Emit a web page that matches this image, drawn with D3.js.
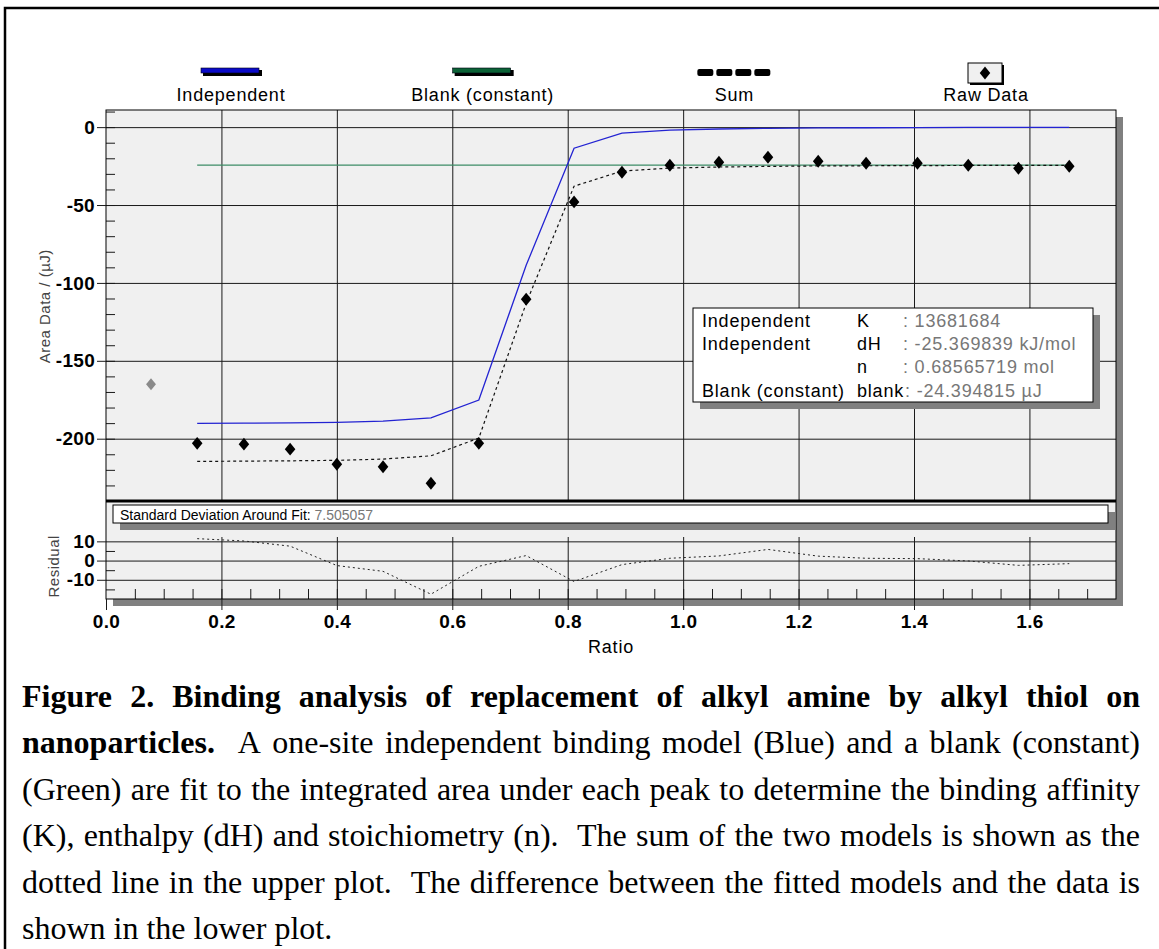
<!DOCTYPE html>
<html>
<head>
<meta charset="utf-8">
<script src="https://cdn.jsdelivr.net/npm/d3@7"></script>
<style>
  body { margin: 0; background: #fff; }
  svg { display: block; }
</style>
</head>
<body>
<div id="chart"></div>
<script>
// data
var ratio = [0.158, 0.239, 0.319, 0.400, 0.480, 0.563, 0.646, 0.728, 0.811, 0.894,
             0.977, 1.062, 1.147, 1.234, 1.317, 1.406, 1.494, 1.581, 1.669];
var rawData = [-203, -203.5, -206.7, -216.4, -218, -228.6, -203, -110.5, -48, -29,
               -24.5, -22.5, -19.3, -21.9, -23.2, -23.2, -24.5, -26.4, -25.1];
var independentFit = [-190.2, -190.0, -189.8, -189.5, -188.7, -186.6, -175.2, -88.7, -13.5, -3.8,
                      -1.9, -1.2, -0.8, -0.5, -0.4, -0.3, -0.2, -0.2, -0.1];
var sumFit = [-214.6, -214.4, -214.2, -213.9, -213.1, -211.0, -199.6, -113.1, -37.9, -28.2,
              -26.3, -25.6, -25.2, -24.9, -24.8, -24.7, -24.6, -24.6, -24.5];
var residual = [11.4, 10.2, 7.5, -2.6, -5.6, -17.5, -3.0, 2.6, -10.9, -2.1,
                1.2, 2.4, 5.8, 2.3, 1.2, 1.0, -0.2, -2.5, -1.6];
var blankRatio = [0.158, 1.669];
var blankFit = [-24.394815, -24.394815];
var excludedRatio = [0.078];
var excludedData = [-165];

var legendNames = ["Independent", "Blank (constant)", "Sum", "Raw Data"];
var yTicks = [0, -50, -100, -150, -200];
var yMinorTicks = d3.range(10, -235, -10);
var resTicks = [10, 0, -10];
var resMinorTicks = [5, -5, -15];
var xTicks = [0, 0.2, 0.4, 0.6, 0.8, 1.0, 1.2, 1.4, 1.6];
var xMinorTicks = d3.range(1, 35).map(function(i) { return i * 0.05 });

var statsLabels = ["Independent", "Independent", "", "Blank (constant)"];
var statsParams = ["K", "dH", "n", "blank"];
var statsValues = [": 13681684", ": -25.369839 kJ/mol", ": 0.68565719 mol", ": -24.394815 \u00b5J"];
var sdLabel = "Standard Deviation Around Fit: ";
var sdValue = "7.505057";

var captionLines = [
  [["Figure 2. Binding analysis of replacement of alkyl amine by alkyl thiol on", true]],
  [["nanoparticles.", true], ["  A one-site independent binding model (Blue) and a blank (constant)", false]],
  [["(Green) are fit to the integrated area under each peak to determine the binding affinity", false]],
  [["(K), enthalpy (dH) and stoichiometry (n).  The sum of the two models is shown as the", false]],
  [["dotted line in the upper plot.  The difference between the fitted models and the data is", false]],
  [["shown in the lower plot.", false]]
];

var width = 1159, height = 949;
var sans = "'Liberation Sans', Arial, sans-serif";
var serif = "'Liberation Serif', 'Times New Roman', serif";

var left = 106, right = 1116, upTop = 110, upBottom = 501, lowBottom = 599;

var svg = d3.select("#chart").append("svg")
  .attr("width", width)
  .attr("height", height);

var x = d3.scaleLinear().domain([0, 1.75]).range([left, right]);
var y = d3.scaleLinear().domain([-240, 11]).range([upBottom, upTop]);
var yRes = d3.scaleLinear().domain([-20, 31]).range([lowBottom, upBottom]);

// page frame
svg.append("path")
  .attr("d", "M5," + height + "V8H" + width)
  .attr("fill", "none")
  .attr("stroke", "#000")
  .attr("stroke-width", 2.5);

// shadow + panels
svg.append("rect")
  .attr("x", left + 7).attr("y", upTop + 7)
  .attr("width", right - left).attr("height", lowBottom - upTop)
  .attr("fill", "#808080");
svg.append("rect")
  .attr("x", left).attr("y", upTop)
  .attr("width", right - left).attr("height", upBottom - upTop)
  .attr("fill", "#f0f0f0");
svg.append("rect")
  .attr("x", left).attr("y", upBottom)
  .attr("width", right - left).attr("height", lowBottom - upBottom)
  .attr("fill", "#f0f0f0");

function clean(g) {
  g.select(".domain").remove();
  g.selectAll("line").attr("stroke", "#1a1a1a");
}

// grid upper
svg.append("g")
  .attr("transform", "translate(" + left + ",0)")
  .call(d3.axisLeft(y).tickValues(yTicks).tickSize(-(right - left)).tickFormat(""))
  .call(clean);
svg.append("g")
  .attr("transform", "translate(0," + upBottom + ")")
  .call(d3.axisBottom(x).tickValues(xTicks.slice(1)).tickSize(-(upBottom - upTop)).tickFormat(""))
  .call(clean);

// grid lower
svg.append("g")
  .attr("transform", "translate(" + left + ",0)")
  .call(d3.axisLeft(yRes).tickValues(resTicks).tickSize(-(right - left)).tickFormat(""))
  .call(clean);
svg.append("g")
  .attr("transform", "translate(0," + lowBottom + ")")
  .call(d3.axisBottom(x).tickValues(xTicks.slice(1)).tickSize(-62).tickFormat(""))
  .call(clean);

// minor ticks
svg.append("g")
  .attr("transform", "translate(" + left + ",0)")
  .call(d3.axisRight(y).tickValues(yMinorTicks).tickSize(9).tickFormat(""))
  .call(clean);
svg.append("g")
  .attr("transform", "translate(" + left + ",0)")
  .call(d3.axisRight(yRes).tickValues(resMinorTicks).tickSize(9).tickFormat(""))
  .call(clean);
svg.append("g")
  .attr("transform", "translate(0," + lowBottom + ")")
  .call(d3.axisTop(x).tickValues(xMinorTicks).tickSize(10).tickFormat(""))
  .call(clean);

// panel borders
svg.append("rect")
  .attr("x", left).attr("y", upTop)
  .attr("width", right - left).attr("height", lowBottom - upTop)
  .attr("fill", "none").attr("stroke", "#000");
svg.append("line")
  .attr("x1", left).attr("x2", right)
  .attr("y1", upBottom).attr("y2", upBottom)
  .attr("stroke", "#000").attr("stroke-width", 3);

// axes with labels
function styleLabels(g) {
  g.selectAll("text")
    .attr("font-family", sans)
    .attr("font-size", 19)
    .attr("font-weight", "bold")
    .attr("letter-spacing", 0.3)
    .attr("fill", "#000");
}
var plain = function(d) { return String(d) };
svg.append("g")
  .attr("transform", "translate(" + left + ",0)")
  .call(d3.axisLeft(y).tickValues(yTicks).tickSize(9).tickPadding(2).tickFormat(plain))
  .call(clean).call(styleLabels);
svg.append("g")
  .attr("transform", "translate(" + left + ",0)")
  .call(d3.axisLeft(yRes).tickValues(resTicks).tickSize(9).tickPadding(2).tickFormat(plain))
  .call(clean).call(styleLabels);
svg.append("g")
  .attr("transform", "translate(0," + lowBottom + ")")
  .call(d3.axisBottom(x).tickValues(xTicks).tickSize(11).tickPadding(5).tickFormat(d3.format(".1f")))
  .call(clean).call(styleLabels);

// axis titles
svg.append("text")
  .attr("transform", "translate(50," + y(-115) + ") rotate(-90)")
  .attr("text-anchor", "middle")
  .attr("font-family", sans).attr("font-size", 15).attr("letter-spacing", 0.5)
  .attr("fill", "#444")
  .text("Area Data / (\u00b5J)");
svg.append("text")
  .attr("transform", "translate(59," + yRes(-3) + ") rotate(-90)")
  .attr("text-anchor", "middle")
  .attr("font-family", sans).attr("font-size", 15).attr("letter-spacing", 0.5)
  .attr("fill", "#444")
  .text("Residual");
svg.append("text")
  .attr("x", (left + right) / 2).attr("y", 653)
  .attr("text-anchor", "middle")
  .attr("font-family", sans).attr("font-size", 18).attr("letter-spacing", 0.8)
  .text("Ratio");

// fit lines
var idx = d3.range(ratio.length);
var fitLine = function(vals, ys) {
  return d3.line()
    .x(function(i) { return x(ratio[i]) })
    .y(function(i) { return ys(vals[i]) });
};

svg.append("path")
  .attr("d", d3.line().x(function(d, i) { return x(blankRatio[i]) }).y(function(d) { return y(d) })(blankFit))
  .attr("fill", "none").attr("stroke", "#3d8c66").attr("stroke-width", 1.3);
svg.append("path")
  .attr("d", fitLine(independentFit, y)(idx))
  .attr("fill", "none").attr("stroke", "#2323d2").attr("stroke-width", 1.3);
svg.append("path")
  .attr("d", fitLine(sumFit, y)(idx))
  .attr("fill", "none").attr("stroke", "#111").attr("stroke-width", 1.2)
  .attr("stroke-dasharray", "3,3");
svg.append("path")
  .attr("d", fitLine(residual, yRes)(idx))
  .attr("fill", "none").attr("stroke", "#222").attr("stroke-width", 1)
  .attr("stroke-dasharray", "2,3");

// diamonds
var diamond = {
  draw: function(ctx, size) {
    var h = Math.sqrt(size) * 0.72, w = h * 0.82;
    ctx.moveTo(0, -h); ctx.lineTo(w, 0); ctx.lineTo(0, h); ctx.lineTo(-w, 0); ctx.closePath();
  }
};
svg.selectAll(".excluded")
  .data(excludedData)
  .enter().append("path")
  .attr("class", "excluded")
  .attr("transform", function(d, i) { return "translate(" + x(excludedRatio[i]) + "," + y(d) + ")" })
  .attr("d", d3.symbol().type(diamond).size(70))
  .attr("fill", "#8a8a8a");
svg.selectAll(".raw")
  .data(rawData)
  .enter().append("path")
  .attr("class", "raw")
  .attr("transform", function(d, i) { return "translate(" + x(ratio[i]) + "," + y(d) + ")" })
  .attr("d", d3.symbol().type(diamond).size(80))
  .attr("fill", "#000");

// stats box
var bx = 693, by = 308;
svg.append("rect").attr("x", bx + 7).attr("y", by + 7).attr("width", 400).attr("height", 94).attr("fill", "#808080");
svg.append("rect").attr("x", bx).attr("y", by).attr("width", 400).attr("height", 94)
  .attr("fill", "#fff").attr("stroke", "#000");
statsParams.forEach(function(p, i) {
  var base = 327 + i * 23.2;
  var t = svg.append("g").attr("font-family", sans).attr("font-size", 18).attr("letter-spacing", 0.8);
  t.append("text").attr("x", 702).attr("y", base).text(statsLabels[i]);
  var pt = t.append("text").attr("x", 857).attr("y", base).text(p);
  var vx = Math.max(903, 857 + pt.node().getComputedTextLength() + 1);
  t.append("text").attr("x", vx).attr("y", base).attr("fill", "#777").text(statsValues[i]);
});

// standard deviation box
svg.append("rect").attr("x", 120).attr("y", 512).attr("width", 995).attr("height", 18).attr("fill", "#808080");
svg.append("rect").attr("x", 113).attr("y", 505).attr("width", 995).attr("height", 18)
  .attr("fill", "#fff").attr("stroke", "#000");
var sd = svg.append("text").attr("x", 120).attr("y", 519.5)
  .attr("font-family", sans).attr("font-size", 14);
sd.append("tspan").text(sdLabel);
sd.append("tspan").attr("fill", "#777").text(sdValue);

// legend
var lx = d3.scalePoint().domain(legendNames).range([231, 986]);
var leg = svg.selectAll(".legend")
  .data(legendNames)
  .enter().append("g")
  .attr("class", "legend")
  .attr("transform", function(d) { return "translate(" + lx(d) + ",0)" });
leg.append("text")
  .attr("y", 101)
  .attr("text-anchor", "middle")
  .attr("font-family", sans).attr("font-size", 18).attr("letter-spacing", 0.8)
  .text(function(d) { return d });

var barColors = {"Independent": "#0a0ac8", "Blank (constant)": "#0b6236"};
leg.filter(function(d) { return barColors[d] }).each(function(d) {
  var g = d3.select(this);
  g.append("rect").attr("x", -28).attr("y", 70).attr("width", 59).attr("height", 6).attr("fill", "#000");
  g.append("rect").attr("x", -30).attr("y", 68).attr("width", 58).attr("height", 5)
    .attr("fill", barColors[d]).attr("stroke", "#001").attr("stroke-width", 0.6);
});
leg.filter(function(d) { return d === "Sum" }).each(function() {
  var g = d3.select(this);
  d3.range(4).forEach(function(i) {
    g.append("rect").attr("x", -37 + i * 19).attr("y", 69).attr("width", 16).attr("height", 7)
      .attr("rx", 2).attr("fill", "#000");
  });
});
leg.filter(function(d) { return d === "Raw Data" }).each(function() {
  var g = d3.select(this);
  g.append("rect").attr("x", -16).attr("y", 65).attr("width", 34).attr("height", 20).attr("fill", "#000");
  g.append("rect").attr("x", -18).attr("y", 63).attr("width", 34).attr("height", 20)
    .attr("fill", "#f0f0f0").attr("stroke", "#000");
  g.append("path").attr("transform", "translate(-1,73)")
    .attr("d", d3.symbol().type(diamond).size(80)).attr("fill", "#000");
});

// caption, justified line by line
var capLeft = 22, capRight = 1140, capSize = 32;
var capBase = [707, 753, 800, 846, 893, 939];
var measure = svg.append("text").attr("font-family", serif).attr("font-size", capSize).attr("opacity", 0);
function textWidth(s, bold) {
  measure.attr("font-weight", bold ? "bold" : "normal").text(s);
  return measure.node().getComputedTextLength();
}
captionLines.forEach(function(line, li) {
  var words = [], gap = 0;
  line.forEach(function(seg) {
    seg[0].split(" ").forEach(function(p, i) {
      if (i > 0) gap++;
      if (p === "") return;
      words.push({text: p, bold: seg[1], gap: words.length ? gap : 0});
      gap = 0;
    });
  });
  words.forEach(function(w) {
    w.width = textWidth(w.text, w.bold);
    w.space = textWidth("a a", w.bold) - textWidth("aa", w.bold);
  });
  var natural = d3.sum(words, function(w) { return w.width + w.gap * w.space });
  var gaps = d3.sum(words, function(w) { return w.gap });
  var extra = li < captionLines.length - 1 ? (capRight - capLeft - natural) / gaps : 0;
  var cx = capLeft;
  words.forEach(function(w) {
    cx += w.gap * (w.space + extra);
    svg.append("text")
      .attr("x", cx).attr("y", capBase[li])
      .attr("font-family", serif).attr("font-size", capSize)
      .attr("font-weight", w.bold ? "bold" : "normal")
      .attr("fill", "#000")
      .text(w.text);
    cx += w.width;
  });
});
measure.remove();
</script>
</body>
</html>
